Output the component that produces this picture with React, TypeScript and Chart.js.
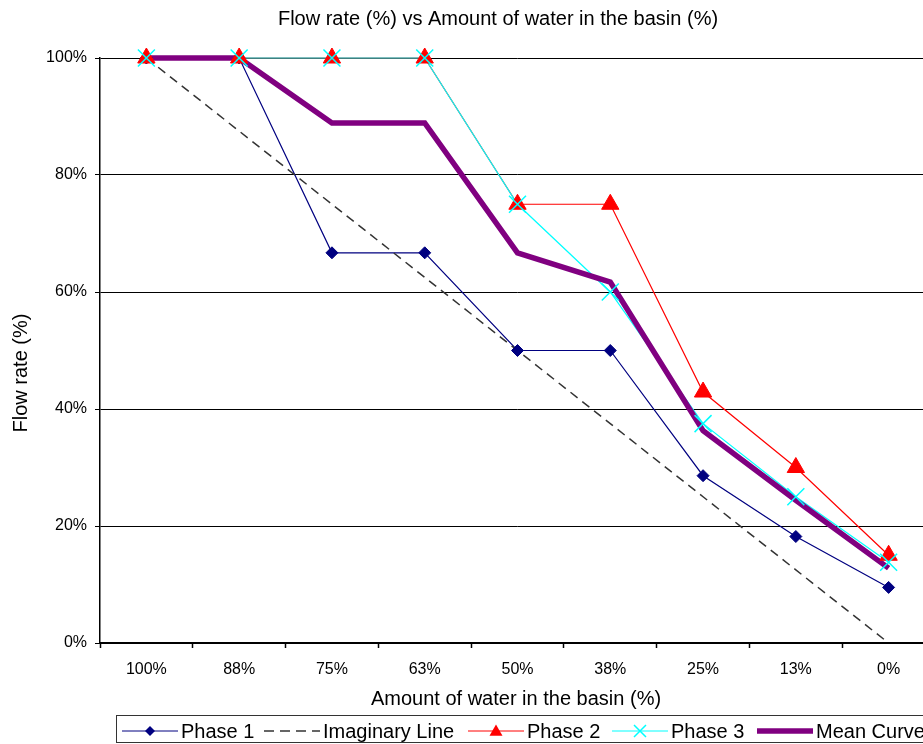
import React, { useEffect, useRef } from "react";
import { Chart, registerables } from "chart.js";

Chart.register(...registerables);

const categories = ["100%", "88%", "75%", "63%", "50%", "38%", "25%", "13%", "0%"];
const phase1 = [100, 100, 66.7, 66.7, 50, 50, 28.6, 18.2, 9.5];
const imaginary = [100, 87.5, 75, 62.5, 50, 37.5, 25, 12.5, 0];
const phase2 = [100, 100, 100, 100, 75, 75, 42.9, 30, 15];
const phase3 = [100, 100, 100, 100, 75, 60, 37.5, 25, 13.8];
const meanCurve = [100, 100, 88.9, 88.9, 66.7, 61.7, 36.3, 24.4, 12.8];

const titleText = "Flow rate (%) vs Amount of water in the basin (%)";
const xTitleText = "Amount of water in the basin (%)";
const yTitleText = "Flow rate (%)";
const legendLabels = ["Phase 1", "Imaginary Line", "Phase 2", "Phase 3", "Mean Curve"];

const FONT = '"Liberation Sans", Arial, Helvetica, sans-serif';
const NAVY = "#000080";
const RED = "#FF0000";
const CYAN = "#00FFFF";
const PURPLE = "#800080";
const DASH = "#333333";

const W = 950;
const H = 736;

function drawDiamond(ctx: CanvasRenderingContext2D, x: number, y: number, r: number, color: string) {
  ctx.beginPath();
  ctx.moveTo(x - r, y);
  ctx.lineTo(x, y - r);
  ctx.lineTo(x + r, y);
  ctx.lineTo(x, y + r);
  ctx.closePath();
  ctx.fillStyle = color;
  ctx.fill();
}

function drawTriangle(ctx: CanvasRenderingContext2D, x: number, y: number, r: number, color: string) {
  const h = (r * Math.sqrt(3)) / 2;
  ctx.beginPath();
  ctx.moveTo(x, y - r);
  ctx.lineTo(x + h, y + r / 2);
  ctx.lineTo(x - h, y + r / 2);
  ctx.closePath();
  ctx.fillStyle = color;
  ctx.fill();
}

function drawX(ctx: CanvasRenderingContext2D, x: number, y: number, r: number, color: string) {
  ctx.beginPath();
  ctx.moveTo(x - r, y - r);
  ctx.lineTo(x + r, y + r);
  ctx.moveTo(x + r, y - r);
  ctx.lineTo(x - r, y + r);
  ctx.strokeStyle = color;
  ctx.lineWidth = 1.5;
  ctx.setLineDash([]);
  ctx.stroke();
}

const textPlugin = {
  id: "excelText",
  afterDraw(chart: any) {
    const ctx: CanvasRenderingContext2D = chart.ctx;
    ctx.save();
    ctx.fillStyle = "#000";
    ctx.font = `20px ${FONT}`;
    ctx.textBaseline = "alphabetic";
    ctx.textAlign = "center";
    // chart title
    ctx.fillText(titleText, 490, 17);
    // x axis title
    ctx.fillText(xTitleText, 508, 697);
    // y axis title
    ctx.save();
    ctx.translate(19, 365);
    ctx.rotate(-Math.PI / 2);
    ctx.fillText(yTitleText, 0, 0);
    ctx.restore();

    // legend box
    ctx.strokeStyle = "#333";
    ctx.lineWidth = 1;
    ctx.setLineDash([]);
    ctx.strokeRect(108.5, 707.5, 830, 27);

    const legendX = [114, 256, 460, 604, 749];
    const ly = 723;
    const len = 56;
    ctx.textAlign = "left";
    legendLabels.forEach((label, i) => {
      const x0 = legendX[i];
      ctx.save();
      ctx.beginPath();
      ctx.moveTo(x0, ly);
      ctx.lineTo(x0 + len, ly);
      if (i === 0) {
        ctx.strokeStyle = NAVY;
        ctx.lineWidth = 1;
      } else if (i === 1) {
        ctx.strokeStyle = DASH;
        ctx.lineWidth = 1.5;
        ctx.setLineDash([10, 6]);
      } else if (i === 2) {
        ctx.strokeStyle = RED;
        ctx.lineWidth = 1;
      } else if (i === 3) {
        ctx.strokeStyle = CYAN;
        ctx.lineWidth = 1;
      } else {
        ctx.strokeStyle = PURPLE;
        ctx.lineWidth = 5.5;
      }
      ctx.stroke();
      ctx.setLineDash([]);
      const mx = x0 + len / 2;
      if (i === 0) drawDiamond(ctx, mx, ly, 5, NAVY);
      if (i === 2) drawTriangle(ctx, mx, ly + 1, 7.5, RED);
      if (i === 3) drawX(ctx, mx, ly, 6, CYAN);
      ctx.restore();
      ctx.fillStyle = "#000";
      ctx.font = `20px ${FONT}`;
      ctx.fillText(label, x0 + 59, 730);
    });
    ctx.restore();
  },
};

export default function App() {
  const ref = useRef<HTMLCanvasElement | null>(null);

  useEffect(() => {
    if (!ref.current) return;
    Chart.defaults.font.family = FONT;
    const chart = new Chart(ref.current, {
      type: "line",
      data: {
        labels: categories,
        datasets: [
          {
            label: "Phase 3 markers",
            data: phase3,
            showLine: false,
            pointStyle: "crossRot",
            pointRadius: 12,
            pointBorderColor: CYAN,
            pointBackgroundColor: CYAN,
            pointBorderWidth: 1.5,
            borderColor: CYAN,
            order: 0,
            clip: false,
          },
          {
            label: "Phase 2 markers",
            data: phase2,
            showLine: false,
            pointStyle: "triangle",
            pointRadius: 10,
            pointBorderColor: RED,
            pointBackgroundColor: RED,
            pointBorderWidth: 1,
            borderColor: RED,
            order: 1,
            clip: false,
          },
          {
            label: "Phase 1 markers",
            data: phase1,
            showLine: false,
            pointStyle: "rectRot",
            pointRadius: 6,
            pointBorderColor: NAVY,
            pointBackgroundColor: NAVY,
            pointBorderWidth: 1,
            borderColor: NAVY,
            order: 2,
            clip: false,
          },
          {
            label: "Mean Curve",
            data: meanCurve,
            borderColor: PURPLE,
            borderWidth: 5.5,
            pointRadius: 0,
            tension: 0,
            order: 3,
            clip: false,
          },
          {
            label: "Phase 3",
            data: phase3,
            borderColor: CYAN,
            borderWidth: 1.2,
            pointRadius: 0,
            tension: 0,
            order: 4,
            clip: false,
          },
          {
            label: "Phase 2",
            data: phase2,
            borderColor: RED,
            borderWidth: 1.2,
            pointRadius: 0,
            tension: 0,
            order: 5,
            clip: false,
          },
          {
            label: "Imaginary Line",
            data: imaginary,
            borderColor: DASH,
            borderWidth: 1.5,
            borderDash: [9, 6],
            pointRadius: 0,
            tension: 0,
            order: 6,
            clip: false,
          },
          {
            label: "Phase 1",
            data: phase1,
            borderColor: NAVY,
            borderWidth: 1.2,
            pointRadius: 0,
            tension: 0,
            order: 7,
            clip: false,
          },
        ],
      },
      options: {
        responsive: false,
        devicePixelRatio: 1,
        animation: false,
        events: [],
        layout: { padding: { left: 0, top: 50, right: 23, bottom: 61 } },
        plugins: {
          legend: { display: false },
          title: { display: false },
          tooltip: { enabled: false },
        },
        scales: {
          x: {
            type: "category",
            offset: true,
            afterFit: (s: any) => {
              s.height = 40;
            },
            grid: {
              offset: true,
              drawOnChartArea: false,
              drawTicks: true,
              tickLength: 5,
              tickColor: "#000",
              tickWidth: 1.5,
              color: "#000",
            },
            border: { display: true, color: "#000", width: 2 },
            ticks: {
              color: "#000",
              font: { size: 16, family: FONT },
              padding: 12,
              maxRotation: 0,
              autoSkip: false,
            },
          },
          y: {
            type: "linear",
            min: 0,
            max: 100,
            afterFit: (s: any) => {
              s.width = 92;
            },
            grid: {
              color: "#000",
              lineWidth: 1,
              drawTicks: true,
              tickLength: 5,
              tickColor: "#000",
            },
            border: { display: true, color: "#000", width: 1.5 },
            ticks: {
              stepSize: 20,
              color: "#000",
              font: { size: 16, family: FONT },
              padding: 8,
              callback: (v: any) => `${v}%`,
            },
          },
        },
      },
      plugins: [textPlugin],
    });
    return () => chart.destroy();
  }, []);

  return (
    <div
      style={{
        position: "fixed",
        left: 8,
        top: 8,
        width: 915,
        height: H,
        overflow: "hidden",
        background: "#fff",
      }}
    >
      <canvas ref={ref} width={W} height={H} style={{ display: "block", width: W, height: H }} />
    </div>
  );
}
